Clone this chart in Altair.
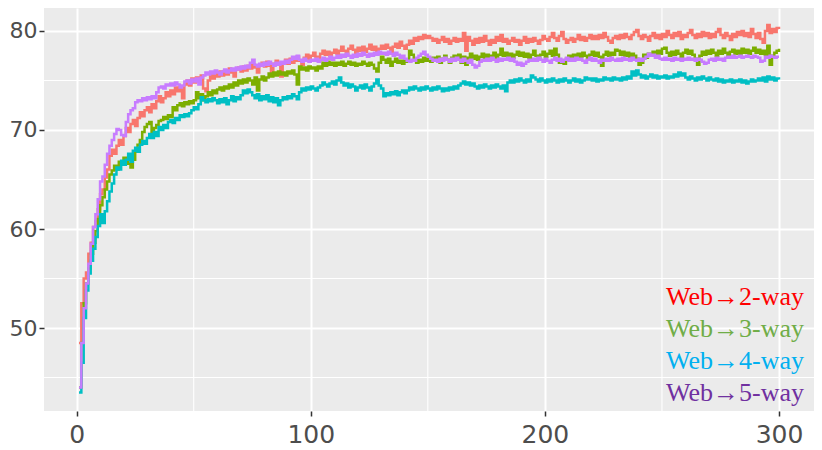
import altair as alt
import pandas as pd

epochs = list(range(1, 301))
series_names = ["Web→2-way", "Web→3-way", "Web→4-way", "Web→5-way"]
line_colors = ["#F8766D", "#7CAE00", "#00BFC4", "#C77CFF"]
label_colors = ["#FF0000", "#70AD47", "#00B0F0", "#7030A0"]
x_major = [0, 100, 200, 300]
x_minor = [50, 150, 250]
y_major = [50, 60, 70, 80]
y_minor = [45, 55, 65, 75]

way2 = [48.5, 52.5, 55.0, 55.6, 57.5, 58.6, 60.2, 60.8, 62.0, 63.5,
        64.0, 65.2, 66.0, 67.4, 68.0, 67.6, 68.4, 69.0, 68.5, 69.4,
        70.2, 69.8, 70.6, 71.0, 70.4, 71.2, 71.8, 71.4, 72.0, 72.3,
        71.8, 72.6, 72.2, 72.9, 73.4, 72.8, 73.2, 73.8, 73.4, 74.0,
        73.6, 74.3, 73.9, 74.4, 73.2, 74.6, 75.0, 74.5, 75.2, 74.8,
        75.3, 74.9, 75.5, 74.2, 73.9, 75.0, 75.6, 75.2, 75.8, 75.4,
        75.9, 75.5, 76.0, 75.6, 76.2, 75.8, 75.4, 76.1, 76.3, 75.9,
        76.4, 76.0, 76.5, 76.2, 76.6, 76.3, 75.8, 76.5, 76.8, 76.4,
        76.9, 76.5, 75.6, 76.7, 77.0, 76.6, 75.4, 76.8, 77.1, 76.7,
        77.2, 76.8, 77.0, 77.4, 77.0, 76.6, 77.3, 77.6, 77.2, 77.5,
        77.8, 77.4, 77.0, 77.7, 78.0, 77.6, 77.9, 77.5, 77.8, 78.1,
        77.7, 78.0, 78.4, 78.0, 77.6, 78.2, 78.5, 78.1, 77.8, 78.3,
        78.0, 78.4, 77.9, 78.2, 78.6, 78.1, 78.4, 77.8, 78.2, 78.5,
        78.2, 78.6, 78.3, 77.9, 78.4, 78.7, 78.3, 78.9, 78.5, 78.2,
        78.6, 79.0, 78.7, 79.3, 79.0, 79.4, 79.2, 79.6, 79.3, 79.5,
        79.3, 79.0, 79.2, 78.8, 79.1, 79.4, 78.9, 79.2, 78.7, 79.0,
        79.3, 78.9, 79.2, 79.0, 79.8, 78.0, 79.4, 79.0, 78.6, 79.2,
        78.8, 79.3, 78.9, 79.5, 79.0, 78.6, 79.1, 78.8, 79.4, 79.0,
        79.6, 78.9, 79.2, 78.7, 79.0, 79.3, 78.9, 79.1, 78.6, 79.0,
        79.4, 78.8, 79.2, 78.9, 79.3, 79.0, 78.7, 79.1, 79.5, 79.2,
        79.0, 79.4, 79.8, 79.3, 79.0, 79.5, 79.9, 79.2, 78.8, 79.1,
        79.3, 78.9, 79.2, 79.6, 79.1, 79.4, 79.0, 79.3, 79.6, 79.2,
        79.5, 79.2, 79.6, 79.3, 79.8, 79.4, 79.0, 78.8, 79.3, 79.5,
        79.2, 79.6, 79.3, 79.7, 79.4, 79.2, 79.6, 79.9, 80.1, 79.5,
        79.2, 79.6, 79.4, 79.0, 79.5, 79.8, 79.3, 79.6, 79.2, 79.7,
        79.4, 80.0, 79.6, 79.3, 79.8, 79.5, 79.9, 79.2, 79.6, 79.4,
        79.8, 80.1, 79.6, 79.3, 79.7, 79.4, 79.9, 79.5, 79.8, 79.3,
        79.7, 79.4, 79.9, 80.2, 79.6, 79.3, 79.8, 79.5, 79.1, 79.7,
        79.4, 79.9, 79.6, 80.0, 79.5, 79.8, 79.4, 80.2, 79.7, 79.3,
        79.8, 79.2, 78.8, 80.0, 80.6, 79.8, 80.2, 79.9, 80.3, 80.2]

way3 = [44.0, 48.5, 52.5, 54.5, 56.0, 57.5, 58.6, 59.8, 61.0, 62.4,
        63.2, 64.0, 64.8, 65.5, 65.9, 66.4, 66.0, 66.8, 66.5, 67.2,
        67.0, 66.6, 66.2, 67.0, 67.8, 68.5, 69.0, 69.8, 70.3, 70.6,
        70.8, 69.8, 70.2, 70.5, 70.9, 71.0, 71.3, 71.1, 71.5, 71.3,
        72.3, 72.0, 72.5, 72.7, 72.4, 72.8, 72.6, 72.9, 72.7, 73.0,
        73.8, 73.2, 73.6, 73.0, 73.4, 73.8, 73.5, 74.0, 73.7, 74.1,
        74.3, 74.0, 74.4, 74.2, 74.6, 74.3, 74.8, 74.5, 75.0, 74.7,
        75.1, 74.8, 75.2, 75.0, 74.6, 75.3, 74.0, 75.1, 75.4, 75.0,
        75.3, 75.7, 75.4, 75.8, 75.5, 75.9, 75.6, 75.8, 75.5, 75.9,
        75.7, 76.0, 75.6, 74.6, 76.4, 76.1, 76.3, 76.0, 76.4, 76.2,
        76.3, 76.0, 76.4, 76.2, 76.8, 76.5, 76.9, 76.6, 76.8, 76.5,
        76.8, 76.6, 76.9, 76.5, 76.7, 76.9, 76.6, 76.8, 76.5, 76.7,
        76.6, 76.9, 76.7, 76.5, 76.8, 76.6, 76.2, 75.9, 76.8, 77.4,
        77.1, 76.8, 77.2, 76.5, 76.9, 77.2, 76.8, 77.0, 76.7, 77.1,
        76.9, 78.0, 77.6, 77.2, 76.8, 77.1, 76.9, 77.3, 77.0, 77.2,
        76.9, 77.3, 77.0, 77.4, 76.8, 77.2, 77.5, 77.1, 76.8, 77.3,
        77.5, 77.2, 77.6, 76.8, 77.4, 76.6, 77.3, 77.7, 77.2, 77.5,
        77.1, 77.4, 77.7, 77.3, 77.6, 77.2, 77.5, 77.8, 77.3, 77.6,
        78.2, 77.5, 77.8, 77.4, 77.7, 77.3, 77.6, 77.9, 77.5, 77.8,
        77.4, 77.7, 77.3, 77.6, 78.0, 77.5, 77.2, 77.6, 77.9, 77.4,
        77.7, 78.0, 77.5, 78.2, 77.6, 76.8, 77.0, 76.7, 77.2, 77.5,
        77.2, 77.6, 77.3, 77.7, 77.4, 77.8, 77.5, 77.2, 77.6, 77.9,
        77.5, 77.8, 77.4, 76.5, 77.6, 77.9, 77.5, 77.8, 77.6, 78.1,
        78.0, 77.6, 77.9, 77.5, 77.8, 77.4, 77.7, 77.5, 77.2, 76.6,
        76.8, 77.6, 77.3, 77.7, 77.5, 77.9, 77.6, 78.0, 77.7, 78.2,
        78.3, 77.8, 77.5, 77.9, 77.6, 78.0, 77.7, 77.4, 77.8, 78.1,
        77.7, 78.0, 77.6, 77.2, 76.6, 77.5, 77.9, 77.6, 78.0, 77.7,
        78.1, 77.8, 77.5, 78.0, 77.7, 78.2, 77.8, 77.5, 77.9, 78.1,
        77.7, 78.0, 77.6, 78.2, 77.8, 78.1, 77.7, 78.0, 78.3, 77.8,
        78.1, 77.7, 78.0, 77.6, 78.5, 76.6, 77.5, 77.8, 78.0, 78.2]

way4 = [43.5, 46.5, 51.0, 53.8, 55.5, 56.8, 58.0, 59.2, 60.3, 61.5,
        60.6, 61.8, 62.8, 63.8, 64.6, 65.5, 66.2, 66.0, 66.9, 66.5,
        67.0, 67.6, 66.8, 67.9, 68.2, 67.8, 68.5, 68.9, 68.6, 69.2,
        69.6, 69.2, 69.8, 69.4, 70.3, 70.0, 70.5, 70.2, 70.8, 71.0,
        70.7, 71.2, 71.0, 71.5, 71.3, 71.6, 71.4, 71.7, 72.0, 72.3,
        72.1, 72.6, 73.3, 73.0, 72.8, 73.1, 72.9, 73.2, 73.0, 72.7,
        73.1, 72.8, 73.2, 72.6, 73.0, 73.4, 72.9, 73.3, 73.1, 73.5,
        74.0, 73.7, 74.1, 73.8, 73.5, 73.2, 73.6, 73.0, 73.4, 73.1,
        73.5, 72.9, 73.3, 72.8, 73.2, 72.5, 73.0, 73.3, 73.1, 73.4,
        73.2, 73.6, 73.4, 73.1, 73.8, 74.2, 74.0, 74.3, 74.1, 74.4,
        74.2, 74.0, 74.3, 74.5, 74.8, 74.6, 74.4, 74.7, 74.9, 74.6,
        75.0, 75.3, 74.8, 74.5, 74.7, 74.3, 74.6, 74.4, 74.0, 74.3,
        74.5, 74.2, 74.6, 74.3, 74.0, 74.4, 74.7, 75.1, 74.5, 74.2,
        73.4, 73.7, 73.5, 73.8, 73.6, 73.9, 73.5, 73.8, 74.0, 73.7,
        74.0, 74.3, 74.1, 74.4, 74.2, 74.0, 74.3, 74.1, 74.4, 74.2,
        74.0, 74.3, 74.1, 74.4, 74.2, 73.9, 74.2, 74.0, 74.3, 74.1,
        74.4, 74.2, 74.5, 74.7, 74.9, 74.6, 74.8, 74.5, 74.7, 74.4,
        74.2, 74.5, 74.3, 74.6, 74.4, 74.2, 74.5, 74.3, 74.6, 74.4,
        74.2, 74.5, 73.9, 74.8, 75.0, 74.8, 75.1, 74.9, 75.2, 75.0,
        74.8, 75.1, 74.9, 75.5, 75.3, 75.1, 74.9, 75.2, 75.0, 74.8,
        75.1, 74.9, 75.2, 75.0, 74.8, 75.1, 74.9, 75.2, 75.0, 74.8,
        75.0, 75.2, 74.9, 75.1, 74.8, 75.0, 75.3, 75.1, 75.2, 75.0,
        75.2, 74.9, 75.1, 75.0, 75.3, 75.1, 75.2, 75.0, 75.3, 75.1,
        75.2, 75.0, 75.3, 75.1, 75.4, 75.2, 75.9, 75.5, 76.0, 75.6,
        75.3, 75.5, 75.2, 75.4, 75.6, 75.3, 75.5, 75.2, 75.4, 75.3,
        75.5, 75.2, 75.4, 75.3, 75.6, 75.4, 75.8, 75.5, 75.7, 75.3,
        75.1, 75.4, 75.2, 75.0, 75.3, 75.1, 75.4, 75.2, 75.0, 75.3,
        75.1, 75.0, 75.2, 74.9, 75.1, 74.8, 75.0, 74.9, 75.1, 74.8,
        75.0, 74.9, 75.1, 74.8, 75.0, 74.7, 74.9, 75.1, 74.9, 75.0,
        75.2, 75.0, 75.3, 74.9, 75.4, 75.1, 75.3, 75.0, 75.2, 75.1]

way5 = [44.0, 48.5, 52.0, 54.5, 56.5, 58.5, 60.2, 61.5, 63.0, 64.8,
        65.3, 66.5, 67.6, 68.4, 69.0, 69.6, 70.1, 70.0, 69.5, 69.4,
        70.8, 71.6, 72.0, 72.2, 72.8, 73.0, 72.9, 73.2, 73.0, 73.3,
        73.1, 73.4, 73.2, 73.8, 74.3, 74.4, 74.2, 74.6, 74.5, 74.7,
        74.5, 74.8, 74.6, 74.3, 74.5, 74.9, 75.0, 74.7, 75.1, 74.9,
        75.2, 74.6, 75.3, 75.5, 75.8, 75.6, 75.9, 75.7, 76.0, 75.8,
        75.6, 75.9, 76.1, 75.8, 76.0, 76.2, 76.0, 76.3, 76.1, 76.4,
        76.2, 76.5, 76.3, 76.8, 77.1, 76.6, 76.4, 76.7, 76.5, 76.8,
        76.6, 76.9, 76.7, 76.5, 76.8, 76.6, 76.9, 76.7, 77.0, 76.8,
        77.1, 77.4, 77.2, 77.5, 77.1, 76.9, 77.2, 77.0, 76.9, 77.1,
        77.0, 77.2, 76.9, 77.1, 77.3, 77.0, 77.2, 77.4, 77.1, 77.3,
        77.5, 77.3, 77.6, 77.4, 77.7, 77.5, 77.3, 77.6, 77.4, 77.7,
        77.5, 77.8, 77.6, 77.4, 77.7, 77.5, 77.8, 77.6, 77.9, 77.7,
        77.8, 77.6, 77.9, 77.7, 77.5, 77.8, 77.6, 77.3, 77.5, 77.2,
        77.0, 76.9, 77.1, 77.0, 77.3, 77.5, 77.7, 77.9, 77.6, 77.4,
        77.2, 77.0, 77.1, 76.9, 77.2, 77.0, 77.3, 77.1, 76.9, 77.2,
        77.0, 77.3, 77.1, 76.9, 77.2, 77.0, 76.8, 77.1, 76.6, 76.3,
        76.5, 76.9, 77.1, 77.0, 77.2, 77.0, 77.3, 77.1, 76.9, 77.2,
        77.0, 77.2, 77.1, 77.3, 77.0, 77.2, 76.9, 76.6, 76.8, 76.5,
        76.7, 76.9, 77.1, 77.0, 77.2, 77.0, 77.3, 77.1, 76.9, 77.2,
        77.0, 76.8, 77.1, 77.3, 77.0, 77.2, 76.9, 77.1, 77.3, 77.0,
        77.2, 77.0, 77.3, 77.1, 77.2, 77.0, 76.8, 77.1, 77.3, 77.0,
        77.2, 77.0, 76.8, 77.1, 77.0, 77.2, 77.0, 77.3, 77.1, 77.0,
        77.2, 77.0, 77.3, 77.1, 77.2, 77.0, 77.3, 77.1, 77.0, 77.2,
        77.0, 77.2, 77.4, 77.7, 77.5, 77.6, 77.3, 77.5, 77.2, 77.1,
        77.3, 77.1, 77.2, 77.0, 77.3, 77.1, 77.2, 77.0, 77.2, 77.1,
        77.3, 77.1, 77.2, 77.0, 77.2, 77.1, 76.9, 76.7, 76.8, 77.1,
        77.2, 77.0, 77.3, 77.1, 77.2, 77.0, 77.3, 77.4, 77.3, 77.5,
        77.3, 77.4, 77.5, 77.3, 77.4, 77.5, 77.4, 77.3, 77.5, 77.4,
        77.3, 76.9, 77.0, 77.4, 77.3, 77.5, 77.4, 77.3, 77.4, 77.4]

rows = []
for name, vals in zip(series_names, [way2, way3, way4, way5]):
    for e, v in zip(epochs, vals):
        rows.append({"epoch": e, "acc": v, "series": name})
df = pd.DataFrame(rows)

x_scale = alt.Scale(domain=[-13.95, 314.95], nice=False, zero=False)
y_scale = alt.Scale(domain=[41.62, 82.32], nice=False, zero=False)

label_expr = " : ".join(
    f"datum.value === '{n}' ? '{c}'" for n, c in zip(series_names, label_colors)
) + " : '#000000'"

vminor = alt.Chart(pd.DataFrame({"v": x_minor})).mark_rule(
    color="white", strokeWidth=1.1
).encode(x=alt.X("v:Q", scale=x_scale))

hminor = alt.Chart(pd.DataFrame({"v": y_minor})).mark_rule(
    color="white", strokeWidth=1.1
).encode(y=alt.Y("v:Q", scale=y_scale))

lines = alt.Chart(df).mark_line(strokeWidth=2.5, interpolate="step-after").encode(
    x=alt.X("epoch:Q", scale=x_scale,
            axis=alt.Axis(values=x_major, title=None, grid=True,
                          labelPadding=6, labelFontSize=25)),
    y=alt.Y("acc:Q", scale=y_scale,
            axis=alt.Axis(values=y_major, title=None, grid=True,
                          labelPadding=2, labelFontSize=22)),
    color=alt.Color(
        "series:N",
        scale=alt.Scale(domain=series_names, range=line_colors),
        legend=alt.Legend(
            title=None, orient="none", legendX=596, legendY=276,
            symbolSize=0, symbolOpacity=0, symbolStrokeWidth=0,
            labelOffset=0, labelFont="Liberation Serif", labelFontSize=26,
            rowPadding=6, labelLimit=400, labelColor={"expr": label_expr},
        ),
    ),
    detail="series:N",
)

chart = alt.layer(vminor, hminor, lines).properties(
    width=770, height=403,
    autosize=alt.AutoSizeParams(type="none"),
    padding={"left": 36, "top": 0, "right": 0, "bottom": 37},
).configure_view(
    fill="#EBEBEB", stroke=None
).configure_axis(
    domain=False, gridColor="white", gridWidth=2,
    tickColor="#333333", tickWidth=1.5, tickSize=5,
    labelColor="#4D4D4D", labelFont="DejaVu Sans",
)

chart.save("out.html", embed_options={"renderer": "svg", "actions": False})
